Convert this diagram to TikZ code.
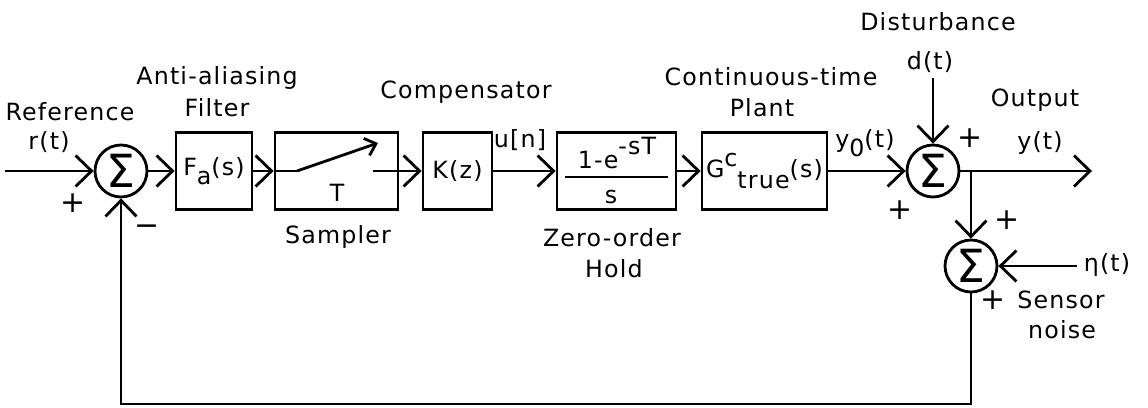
\documentclass[tikz,border=0pt]{standalone}
\usepackage{fontspec}
\setmainfont{DejaVu Sans}[LetterSpace=5]
\usetikzlibrary{arrows.meta}
\newcommand{\up}[2][8pt]{\raisebox{#1}{#2}}
\newcommand{\dn}[2][-5pt]{\raisebox{#1}{#2}}
\begin{document}
\begin{tikzpicture}[x=0.02cm,y=-0.02cm,
  line width=1.6pt,
  >={Straight Barb[length=0.32cm,width=0.62cm,line width=1.6pt]},
  smallbarb/.style={-{Straight Barb[length=0.2cm,width=0.36cm,line width=1.6pt]}},
  blk/.style={draw,rectangle,minimum height=1.54cm,inner sep=0pt,font=\fontsize{13.5}{15}\selectfont},
  sumnode/.style={draw,circle,minimum size=1.04cm,inner sep=0pt,font=\fontsize{26}{26}\selectfont},
  lbl/.style={inner sep=0pt,font=\fontsize{13.5}{15}\selectfont},
  sgn/.style={inner sep=0pt,font=\fontsize{17}{17}\selectfont}]
\useasboundingbox (0,0) rectangle (1148,408);

% summing junctions
\node[sumnode] (s1) at (121,171) {Σ};
\node[sumnode] (s2) at (933,171) {Σ};
\node[sumnode] (s3) at (971,266) {Σ};

% blocks
\node[blk,minimum width=1.52cm] (fa) at (214,171) {F\dn{a}(s)};
\node[blk,minimum width=2.46cm] (smp) at (336.5,171) {};
\node[blk,minimum width=1.38cm] (k) at (457.5,171) {K(z)};
\node[blk,minimum width=2.38cm] (zoh) at (616.5,171) {};
\node[blk,minimum width=2.5cm] (pl) at (764.5,171) {G\up[6pt]{c}\dn[-6pt]{true}(s)};

% sampler switch
\coordinate (sw1) at (297,171);
\coordinate (sw2) at (378,143);
\coordinate (sw3) at (373,171);
\draw (smp.west) -- (sw1);
\draw[smallbarb] (sw1) -- (sw2);
\draw (sw3) -- (smp.east);
\node[lbl] (tT) at (337,193) {T};

% ZOH fraction
\node[lbl] (num) at (617,153) {1-e\up{-sT}};
\coordinate (fl) at (565,177);
\coordinate (fr) at (668,177);
\draw (fl) -- (fr);
\node[lbl] (den) at (611,197) {s};

% signal coordinates
\coordinate (rin) at (5,171);
\coordinate (din) at (933,78);
\coordinate (br) at (971,171);
\coordinate (yout) at (1092,171);
\coordinate (ein) at (1077,266);
\coordinate (fb1) at (971,404);
\coordinate (fb2) at (121,404);

% connectors
\draw[->] (rin) -- (s1.west);
\draw[->] (s1.east) -- (fa.west);
\draw[->] (fa.east) -- (smp.west);
\draw[->] (smp.east) -- (k.west);
\draw[->] (k.east) -- (zoh.west);
\draw[->] (zoh.east) -- (pl.west);
\draw[->] (pl.east) -- (s2.west);
\draw[->] (din) -- (s2.north);
\draw[->] (s2.east) -- (br) -- (yout);
\draw[->] (br) -- (s3.north);
\draw[->] (ein) -- (s3.east);
\draw[->] (s3.south) -- (fb1) -- (fb2) -- (s1.south);

% labels
\node[lbl] (lref) at (70,112) {Reference};
\node[lbl] (lr) at (49,142) {r(t)};
\node[sgn] (p1) at (73,203) {+};
\node[sgn] (m1) at (147,230) {−};
\node[lbl] (laa) at (217,78) {Anti-aliasing};
\node[lbl] (lfil) at (217,108) {Filter};
\node[lbl] (lcomp) at (466,92) {Compensator};
\node[lbl] (lsamp) at (338,237) {Sampler};
\node[lbl] (lun) at (520,140) {u[n]};
\node[lbl] (lzoh) at (612,238) {Zero-order};
\node[lbl] (lhold) at (614,269) {Hold};
\node[lbl] (lct) at (771,77) {Continuous-time};
\node[lbl] (lplant) at (762,108) {Plant};
\node[lbl] (ly0) at (865,143) {y\dn{0}(t)};
\node[sgn] (p2) at (900,210) {+};
\node[sgn] (p3) at (970,138) {+};
\node[lbl] (ldist) at (938,22) {Disturbance};
\node[lbl] (ld) at (930,62) {d(t)};
\node[lbl] (lout) at (1035,100) {Output};
\node[lbl] (ly) at (1040,143) {y(t)};
\node[sgn] (p4) at (1007,220) {+};
\node[lbl] (leta) at (1107,265) {η(t)};
\node[sgn] (p5) at (993,300) {+};
\node[lbl] (lsens) at (1061,300) {Sensor};
\node[lbl] (lnoise) at (1062,330) {noise};
\end{tikzpicture}
\end{document}
